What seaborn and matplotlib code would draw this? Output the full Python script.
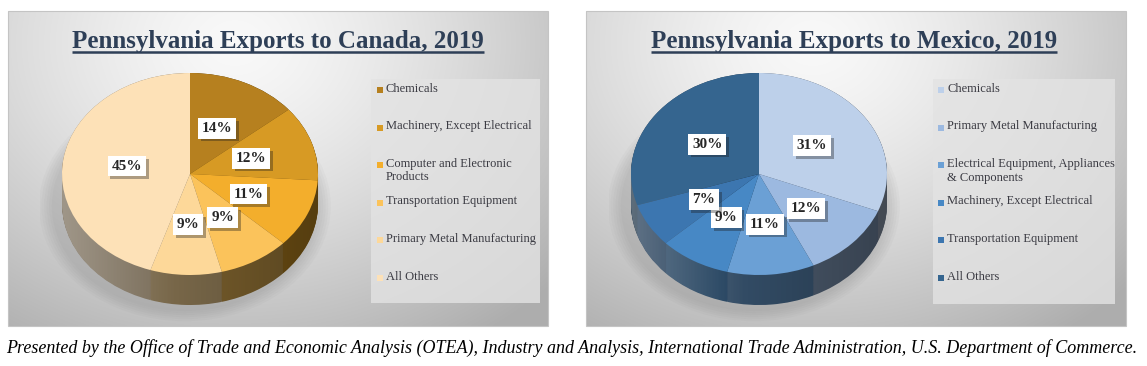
import numpy as np
import matplotlib
matplotlib.use("Agg")
import matplotlib.pyplot as plt
import matplotlib.patheffects as pe
from matplotlib.colors import to_rgb
from matplotlib.path import Path
from matplotlib.patches import PathPatch, Rectangle, Ellipse
import seaborn as sns

# ---- data ----
canada_labels = ["Chemicals", "Machinery, Except Electrical",
                 "Computer and Electronic\nProducts", "Transportation Equipment",
                 "Primary Metal Manufacturing", "All Others"]
canada_values = [14, 12, 11, 9, 9, 45]
canada_colors = ["#b6801f", "#d79a24", "#f3ae2c", "#fbc35b", "#fdd899", "#fde1b7"]

mexico_labels = ["Chemicals", "Primary Metal Manufacturing",
                 "Electrical Equipment, Appliances\n& Components",
                 "Machinery, Except Electrical", "Transportation Equipment", "All Others"]
mexico_values = [31, 12, 11, 9, 7, 30]
mexico_colors = ["#bdd0ea", "#9cb9e0", "#6ba0d5", "#4788c5", "#3c76b0", "#35658f"]

canada_title = "Pennsylvania Exports to Canada, 2019"
mexico_title = "Pennsylvania Exports to Mexico, 2019"
caption = ("Presented by the Office of Trade and Economic Analysis (OTEA), Industry and Analysis, "
           "International Trade Administration, U.S. Department of Commerce.")

W, H = 1147, 366
sns.set_theme(style="white")
plt.rcParams["font.family"] = ["Liberation Serif", "DejaVu Serif"]

fig = plt.figure(figsize=(W / 100, H / 100), dpi=100)
fig.patch.set_facecolor("white")
canvas = fig.add_axes([0, 0, 1, 1])
canvas.axis("off")


def panel(x0, x1, y0, y1, lx0, lx1, ly0, ly1):
    u = np.linspace(0, 1, 300)
    v = np.linspace(0, 1, 200)
    U, V = np.meshgrid(u, v)
    d = np.sqrt(((U - 0.42) / 0.72) ** 2 + ((V - 0.1) / 1.0) ** 2)
    g = np.clip(0.975 - 0.25 * d ** 1.4, 0.68, 1)
    canvas.imshow(np.dstack([g, g, g]), extent=(x0, x1, y1, y0), aspect="auto",
                  interpolation="bilinear", zorder=0)
    canvas.add_patch(Rectangle((x0, y0), x1 - x0, y1 - y0, fill=False,
                               edgecolor="#c4c4c4", lw=0.8, zorder=1))
    canvas.add_patch(Rectangle((lx0, ly0), lx1 - lx0, ly1 - ly0, facecolor="#e3e3e3",
                               edgecolor="none", alpha=0.8, zorder=1))


def legend(x, labels, colors):
    for i, (lab, col) in enumerate(zip(labels, colors)):
        y = 90 + i * 37.6
        canvas.scatter([x], [y], marker="s", s=22, color=col, linewidths=0, zorder=3)
        canvas.text(x + 6, y - 7.5, lab, fontsize=9, color="#3a3a42", va="top",
                    ha="left", linespacing=1.2, zorder=3)


def title(x, text):
    return canvas.text(x, 48, text, fontsize=18, fontweight="bold", color="#2e3f57",
                       ha="center", va="baseline", zorder=3)


def draw_pie(cx, cy, values, colors):
    rx, ry, depth = 128, 101, 30
    left, right, up, down = 150, 150, 118, 160
    ax = fig.add_axes([(cx - left) / W, 1 - (cy + down) / H,
                       (left + right) / W, (up + down) / H])
    ax.patch.set_alpha(0)
    d = depth / ry
    # soft shadow under the pie
    for k in range(6):
        ax.add_patch(Ellipse((-0.04, -d - 0.02), 2.08 + k * 0.04, 2.08 + k * 0.04,
                             facecolor="#707070", alpha=0.045, edgecolor="none"))
    dark = [tuple(c * 0.47 for c in to_rgb(col)) for col in colors]
    for off in np.linspace(d, 0, 40):
        ax.pie(values, colors=dark, startangle=90, counterclock=False,
               center=(0, -off), wedgeprops=dict(linewidth=0))
    # side shading: lighter on the left, darker on the right
    t1 = np.linspace(0, np.pi, 100)
    t2 = np.linspace(np.pi, 2 * np.pi, 100)
    verts = np.concatenate([np.c_[np.cos(t1), np.sin(t1)],
                            np.c_[np.cos(t2), np.sin(t2) - d]])
    clip = PathPatch(Path(verts, closed=False), facecolor="none", edgecolor="none")
    ax.add_patch(clip)
    grad = np.zeros((1, 256, 4))
    s = np.linspace(0, 1, 256)
    grad[0, :, :3] = np.where(s < 0.45, 1.0, 0.0)[:, None]
    grad[0, :, 3] = np.where(s < 0.45, 0.3 * (0.45 - s) / 0.45, 0.25 * (s - 0.45) / 0.55)
    im = ax.imshow(grad, extent=(-1, 1, -1 - d, 1), aspect="auto", zorder=1)
    im.set_clip_path(clip)
    wedges, texts, autotexts = ax.pie(
        values, colors=colors, startangle=90, counterclock=False, autopct="%.0f%%",
        pctdistance=0.5, wedgeprops=dict(linewidth=0),
        textprops=dict(fontsize=11, fontweight="bold", color="#262626"))
    for t in autotexts:
        t.set_zorder(5)
        t.set_bbox(dict(facecolor="white", edgecolor="none", boxstyle="square,pad=0.25"))
        t.get_bbox_patch().set_path_effects(
            [pe.withSimplePatchShadow(offset=(2, -2), alpha=0.35, shadow_rgbFace="k")])
    ax.set_aspect("auto")
    ax.set_xlim(-left / rx, right / rx)
    ax.set_ylim(-down / ry, up / ry)
    ax.axis("off")


panel(8, 548, 11, 326, 371, 540, 79, 303)
panel(586, 1126, 11, 326, 933, 1115, 79, 304)
legend(380, canada_labels, canada_colors)
legend(941, mexico_labels, mexico_colors)
t_can = title(278, canada_title)
t_mex = title(854, mexico_title)
canvas.text(572, 348, caption, fontsize=13, style="italic", color="black",
            ha="center", va="center", zorder=3)
canvas.set_xlim(0, W)
canvas.set_ylim(H, 0)

draw_pie(190, 174, canada_values, canada_colors)
draw_pie(759, 174, mexico_values, mexico_colors)

# underline the titles
fig.canvas.draw()
inv = canvas.transData.inverted()
for t in (t_can, t_mex):
    bb = t.get_window_extent()
    (x0, _), (x1, _) = inv.transform([[bb.x0, 0], [bb.x1, 0]])
    canvas.plot([x0, x1], [52, 52], color="#2e3f57", lw=1.8, zorder=3,
                solid_capstyle="butt")
canvas.set_xlim(0, W)
canvas.set_ylim(H, 0)

fig.savefig("out.png", dpi=100)
